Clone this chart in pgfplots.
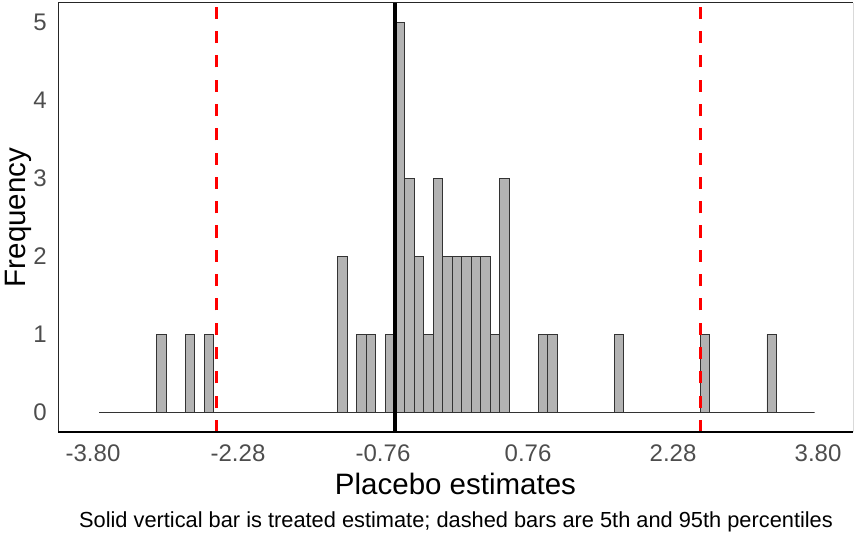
\documentclass[border=0pt]{standalone}
\usepackage{fontspec}
\setmainfont{Liberation Sans}
\usepackage{pgfplots}
\pgfplotsset{compat=1.18}

\definecolor{barfill}{HTML}{B3B3B3}
\definecolor{tickgray}{HTML}{4D4D4D}
\definecolor{refred}{HTML}{FF0000}

\newcommand{\ticksize}{\fontsize{24bp}{28bp}\selectfont}
\newcommand{\titlesize}{\fontsize{29.5bp}{34bp}\selectfont}
\newcommand{\capsize}{\fontsize{21.8bp}{26bp}\selectfont}

\begin{document}
\begin{tikzpicture}[x=1bp, y=1bp]
\useasboundingbox (0,0) rectangle (855,533);
\begin{axis}[
  at={(58bp,101bp)}, anchor=south west,
  width=795bp, height=429bp, scale only axis,
  xmin=-4.167, xmax=4.167,
  ymin=-0.25, ymax=5.25,
  clip=false,
  axis line style={draw=none},
  major tick length=0pt,
  xtick={-3.80,-2.28,-0.76,0.76,2.28,3.80},
  xticklabels={-3.80,-2.28,-0.76,0.76,2.28,3.80},
  ytick={0,1,2,3,4,5},
  yticklabels={0,1,2,3,4,5},
  xticklabel style={font=\ticksize, text=tickgray, anchor=north, inner sep=0pt, yshift=-13bp},
  yticklabel style={font=\ticksize, text=tickgray, anchor=east, inner sep=0pt, xshift=-11bp},
]
  % histogram, bin width 0.1 (empty bins give the flat base line)
  \addplot[ybar interval, fill=barfill, draw=black!80, line width=0.8bp]
    coordinates {
      (-3.735,0) (-3.635,0) (-3.535,0) (-3.435,0) (-3.335,0) (-3.235,0)
      (-3.135,1) (-3.035,0) (-2.935,0) (-2.835,1) (-2.735,0) (-2.635,1)
      (-2.535,0) (-2.435,0) (-2.335,0) (-2.235,0) (-2.135,0) (-2.035,0)
      (-1.935,0) (-1.835,0) (-1.735,0) (-1.635,0) (-1.535,0) (-1.435,0)
      (-1.335,0) (-1.235,2) (-1.135,0) (-1.035,1) (-0.935,1) (-0.835,0)
      (-0.735,1) (-0.635,5) (-0.535,3) (-0.435,2) (-0.335,1) (-0.235,3)
      (-0.135,2) (-0.035,2) (0.065,2) (0.165,2) (0.265,2) (0.365,1)
      (0.465,3) (0.565,0) (0.665,0) (0.765,0) (0.865,1) (0.965,1)
      (1.065,0) (1.165,0) (1.265,0) (1.365,0) (1.465,0) (1.565,0)
      (1.665,1) (1.765,0) (1.865,0) (1.965,0) (2.065,0) (2.165,0)
      (2.265,0) (2.365,0) (2.465,0) (2.565,1) (2.665,0) (2.765,0)
      (2.865,0) (2.965,0) (3.065,0) (3.165,0) (3.265,1) (3.365,0)
      (3.465,0) (3.565,0) (3.665,0) (3.765,0)
    };
  % treated estimate
  \addplot[black, line width=4bp] coordinates {(-0.635,-0.25) (-0.635,5.25)};
  % 5th and 95th percentiles
  \addplot[refred, line width=3bp, dash pattern=on 12.15bp off 12.15bp]
    coordinates {(-2.503,-0.25) (-2.503,5.25)};
  \addplot[refred, line width=3bp, dash pattern=on 12.15bp off 12.15bp]
    coordinates {(2.571,-0.25) (2.571,5.25)};
  % panel frame
  \draw[black!85, line width=1bp] (rel axis cs:0,0) -- (rel axis cs:0,1) -- (rel axis cs:1,1);
  \draw[black!15, line width=1bp] (rel axis cs:1,1) -- (rel axis cs:1,0);
  \draw[black, line width=2bp] (rel axis cs:0,0) -- (rel axis cs:1,0);
\end{axis}
\node[rotate=90, anchor=base, font=\titlesize, inner sep=0pt] at (25,315.5) {Frequency};
\node[anchor=base, font=\titlesize, inner sep=0pt] at (455.5,38) {Placebo estimates};
\node[anchor=base, font=\capsize, inner sep=0pt] at (456,5.5)
  {Solid vertical bar is treated estimate; dashed bars are 5th and 95th percentiles};
\end{tikzpicture}
\end{document}
